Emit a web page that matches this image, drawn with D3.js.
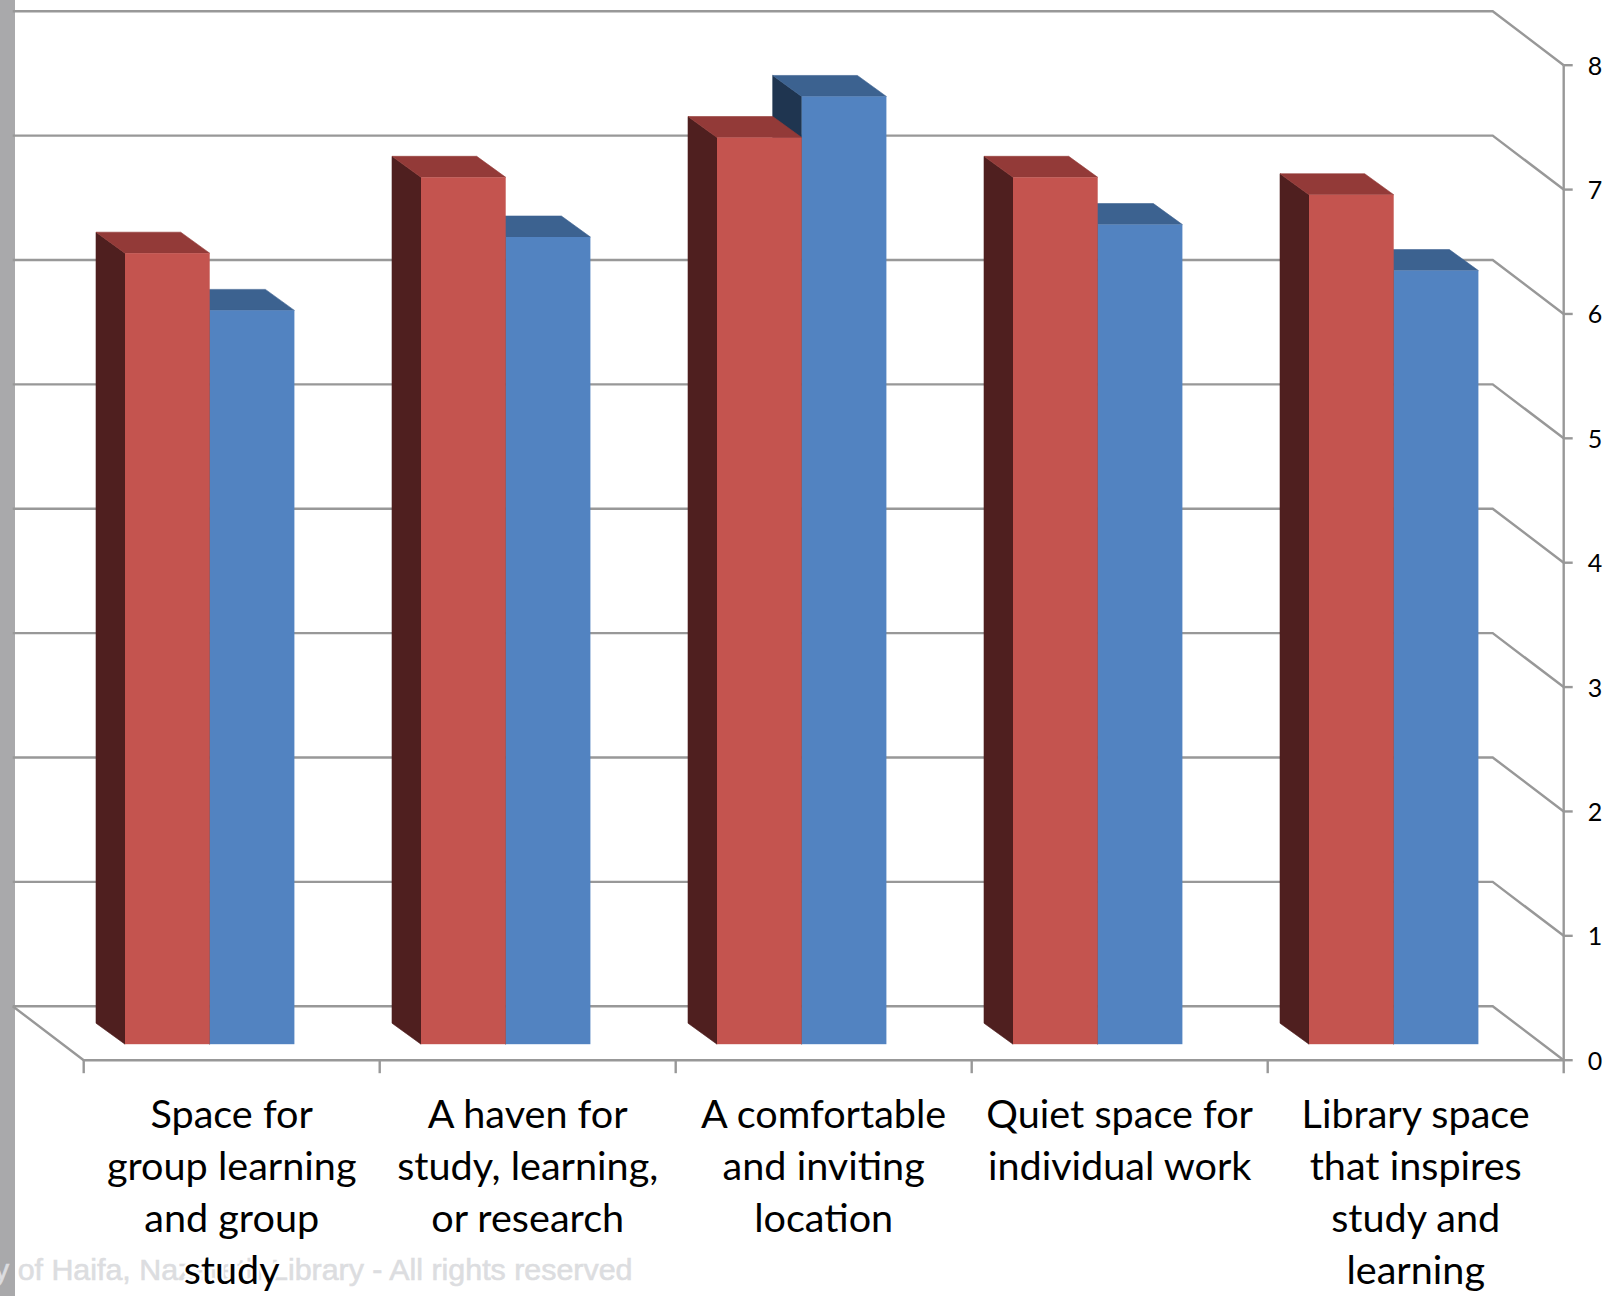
<!DOCTYPE html>
<html>
<head>
<meta charset="utf-8">
<script src="https://cdn.jsdelivr.net/npm/d3@7"></script>
<style>
  html, body { margin: 0; padding: 0; background: #fff; }
  svg { display: block; }
  text { font-family: Lato, "Open Sans", sans-serif; }
</style>
</head>
<body>
<svg id="chart" width="1614" height="1296"></svg>
<script>
// Survey ratings per library-space statement, two series per category.
const categories = [
  ["Space for", "group learning", "and group", "study"],
  ["A haven for", "study, learning,", "or research"],
  ["A comfortable", "and inviting", "location"],
  ["Quiet space for", "individual work"],
  ["Library space", "that inspires", "study and", "learning"]
];
const redSeries  = [6.36, 6.97, 7.29, 6.97, 6.83];
const blueSeries = [5.90, 6.49, 7.62, 6.59, 6.22];
const yTicks = [0, 1, 2, 3, 4, 5, 6, 7, 8];
const watermark = "y of Haifa, Nazareth Library - All rights reserved";

const svg = d3.select("#chart");

// Front plane of the 3D plot box, and the offset of its back wall.
const frontLeft = 83.7, frontRight = 1563.7, floorY = 1060.2, topY = 65.2;
const wallDx = -71, wallDy = -54;
// Bars stand partway into the box, and have their own depth.
const barInsetY = -16, barDepthX = -29, barDepthY = -21;
const barStart = 41.3, barWidth = 84.7;

const x = d3.scaleBand().domain(d3.range(categories.length)).range([frontLeft, frontRight]);
const xSeries = d3.scaleBand().domain(["red", "blue"]).range([barStart, barStart + 2 * barWidth]);
const y = d3.scaleLinear().domain([0, 8]).range([floorY, topY]);

const gridColor = "#989898";

// Grey strip along the left edge.
svg.append("rect").attr("x", 0).attr("y", 0).attr("width", 15).attr("height", 1296).attr("fill", "#a9a9ab");

// Faint credit line behind the labels, running over the strip.
svg.append("text")
  .attr("x", -6).attr("y", 1280)
  .attr("font-size", 30.4)
  .style("font-family", "'Liberation Sans', Arial, sans-serif")
  .attr("fill", "#dcdde0")
  .attr("stroke", "#dcdde0")
  .attr("stroke-width", 0.6)
  .text(watermark);

// Back-wall gridlines turning forward onto the side wall.
const line = d3.line();
svg.append("g").selectAll("path").data(yTicks).join("path")
  .attr("fill", "none").attr("stroke", gridColor).attr("stroke-width", 2.4)
  .attr("d", d => line([
    [frontLeft + wallDx, y(d) + wallDy],
    [frontRight + wallDx, y(d) + wallDy],
    [frontRight, y(d)]
  ]));

// Floor edges and front axes.
const axes = svg.append("g").attr("fill", "none").attr("stroke", gridColor).attr("stroke-width", 2.4);
axes.append("path").attr("d", line([
  [frontLeft + wallDx, y(0) + wallDy], [frontLeft, y(0)], [frontRight, y(0)]
]));
axes.append("path").attr("d", line([[frontRight, y(8)], [frontRight, y(0) + 13]]));
axes.selectAll("path.xtick").data(d3.range(categories.length)).join("path")
  .attr("class", "xtick")
  .attr("d", i => line([[x(i), y(0)], [x(i), y(0) + 13]]));
axes.selectAll("path.ytick").data(yTicks).join("path")
  .attr("class", "ytick")
  .attr("d", d => line([[frontRight, y(d)], [frontRight + 9, y(d)]]));

// One 3D bar: side face, top face, then front face.
function drawBar(g, left, value, colors) {
  const right = left + barWidth;
  const bottom = y(0) + barInsetY;
  const top = bottom - (y(0) - y(value));
  g.append("polygon").attr("fill", colors.side).attr("stroke", colors.side).attr("stroke-width", 0.6).attr("points", [
    [left, top], [left + barDepthX, top + barDepthY],
    [left + barDepthX, bottom + barDepthY], [left, bottom]
  ].join(" "));
  g.append("polygon").attr("fill", colors.top).attr("stroke", colors.top).attr("stroke-width", 0.6).attr("points", [
    [left, top], [left + barDepthX, top + barDepthY],
    [right + barDepthX, top + barDepthY], [right, top]
  ].join(" "));
  g.append("rect").attr("x", left).attr("y", top)
    .attr("width", barWidth).attr("height", bottom - top).attr("fill", colors.front);
}

const redColors  = { front: "#c4544f", top: "#933a38", side: "#4f1f1f" };
const blueColors = { front: "#5283c1", top: "#3c6290", side: "#1f3550" };

// Blue goes first so the red top face overlaps its dark side.
const bars = svg.append("g");
categories.forEach((c, i) => {
  const g = bars.append("g");
  drawBar(g, x(i) + xSeries("blue"), blueSeries[i], blueColors);
  drawBar(g, x(i) + xSeries("red"), redSeries[i], redColors);
});

// Category labels, one text element per wrapped line; the white halo keeps them clear of the credit line.
const labels = svg.append("g").attr("text-anchor", "middle").attr("font-size", 39.6).attr("fill", "#000")
  .attr("stroke", "#fff").attr("stroke-width", 5).style("paint-order", "stroke");
categories.forEach((lines, i) => {
  lines.forEach((t, j) => {
    labels.append("text")
      .attr("x", x(i) + x.bandwidth() / 2)
      .attr("y", 1128 + j * 52)
      .text(t);
  });
});

// Value labels on the right axis.
svg.append("g").attr("text-anchor", "middle").attr("font-size", 25).attr("fill", "#000")
  .selectAll("text").data(yTicks).join("text")
  .attr("x", 1595)
  .attr("y", d => y(d) + 9.5)
  .text(d => d);
</script>
</body>
</html>
